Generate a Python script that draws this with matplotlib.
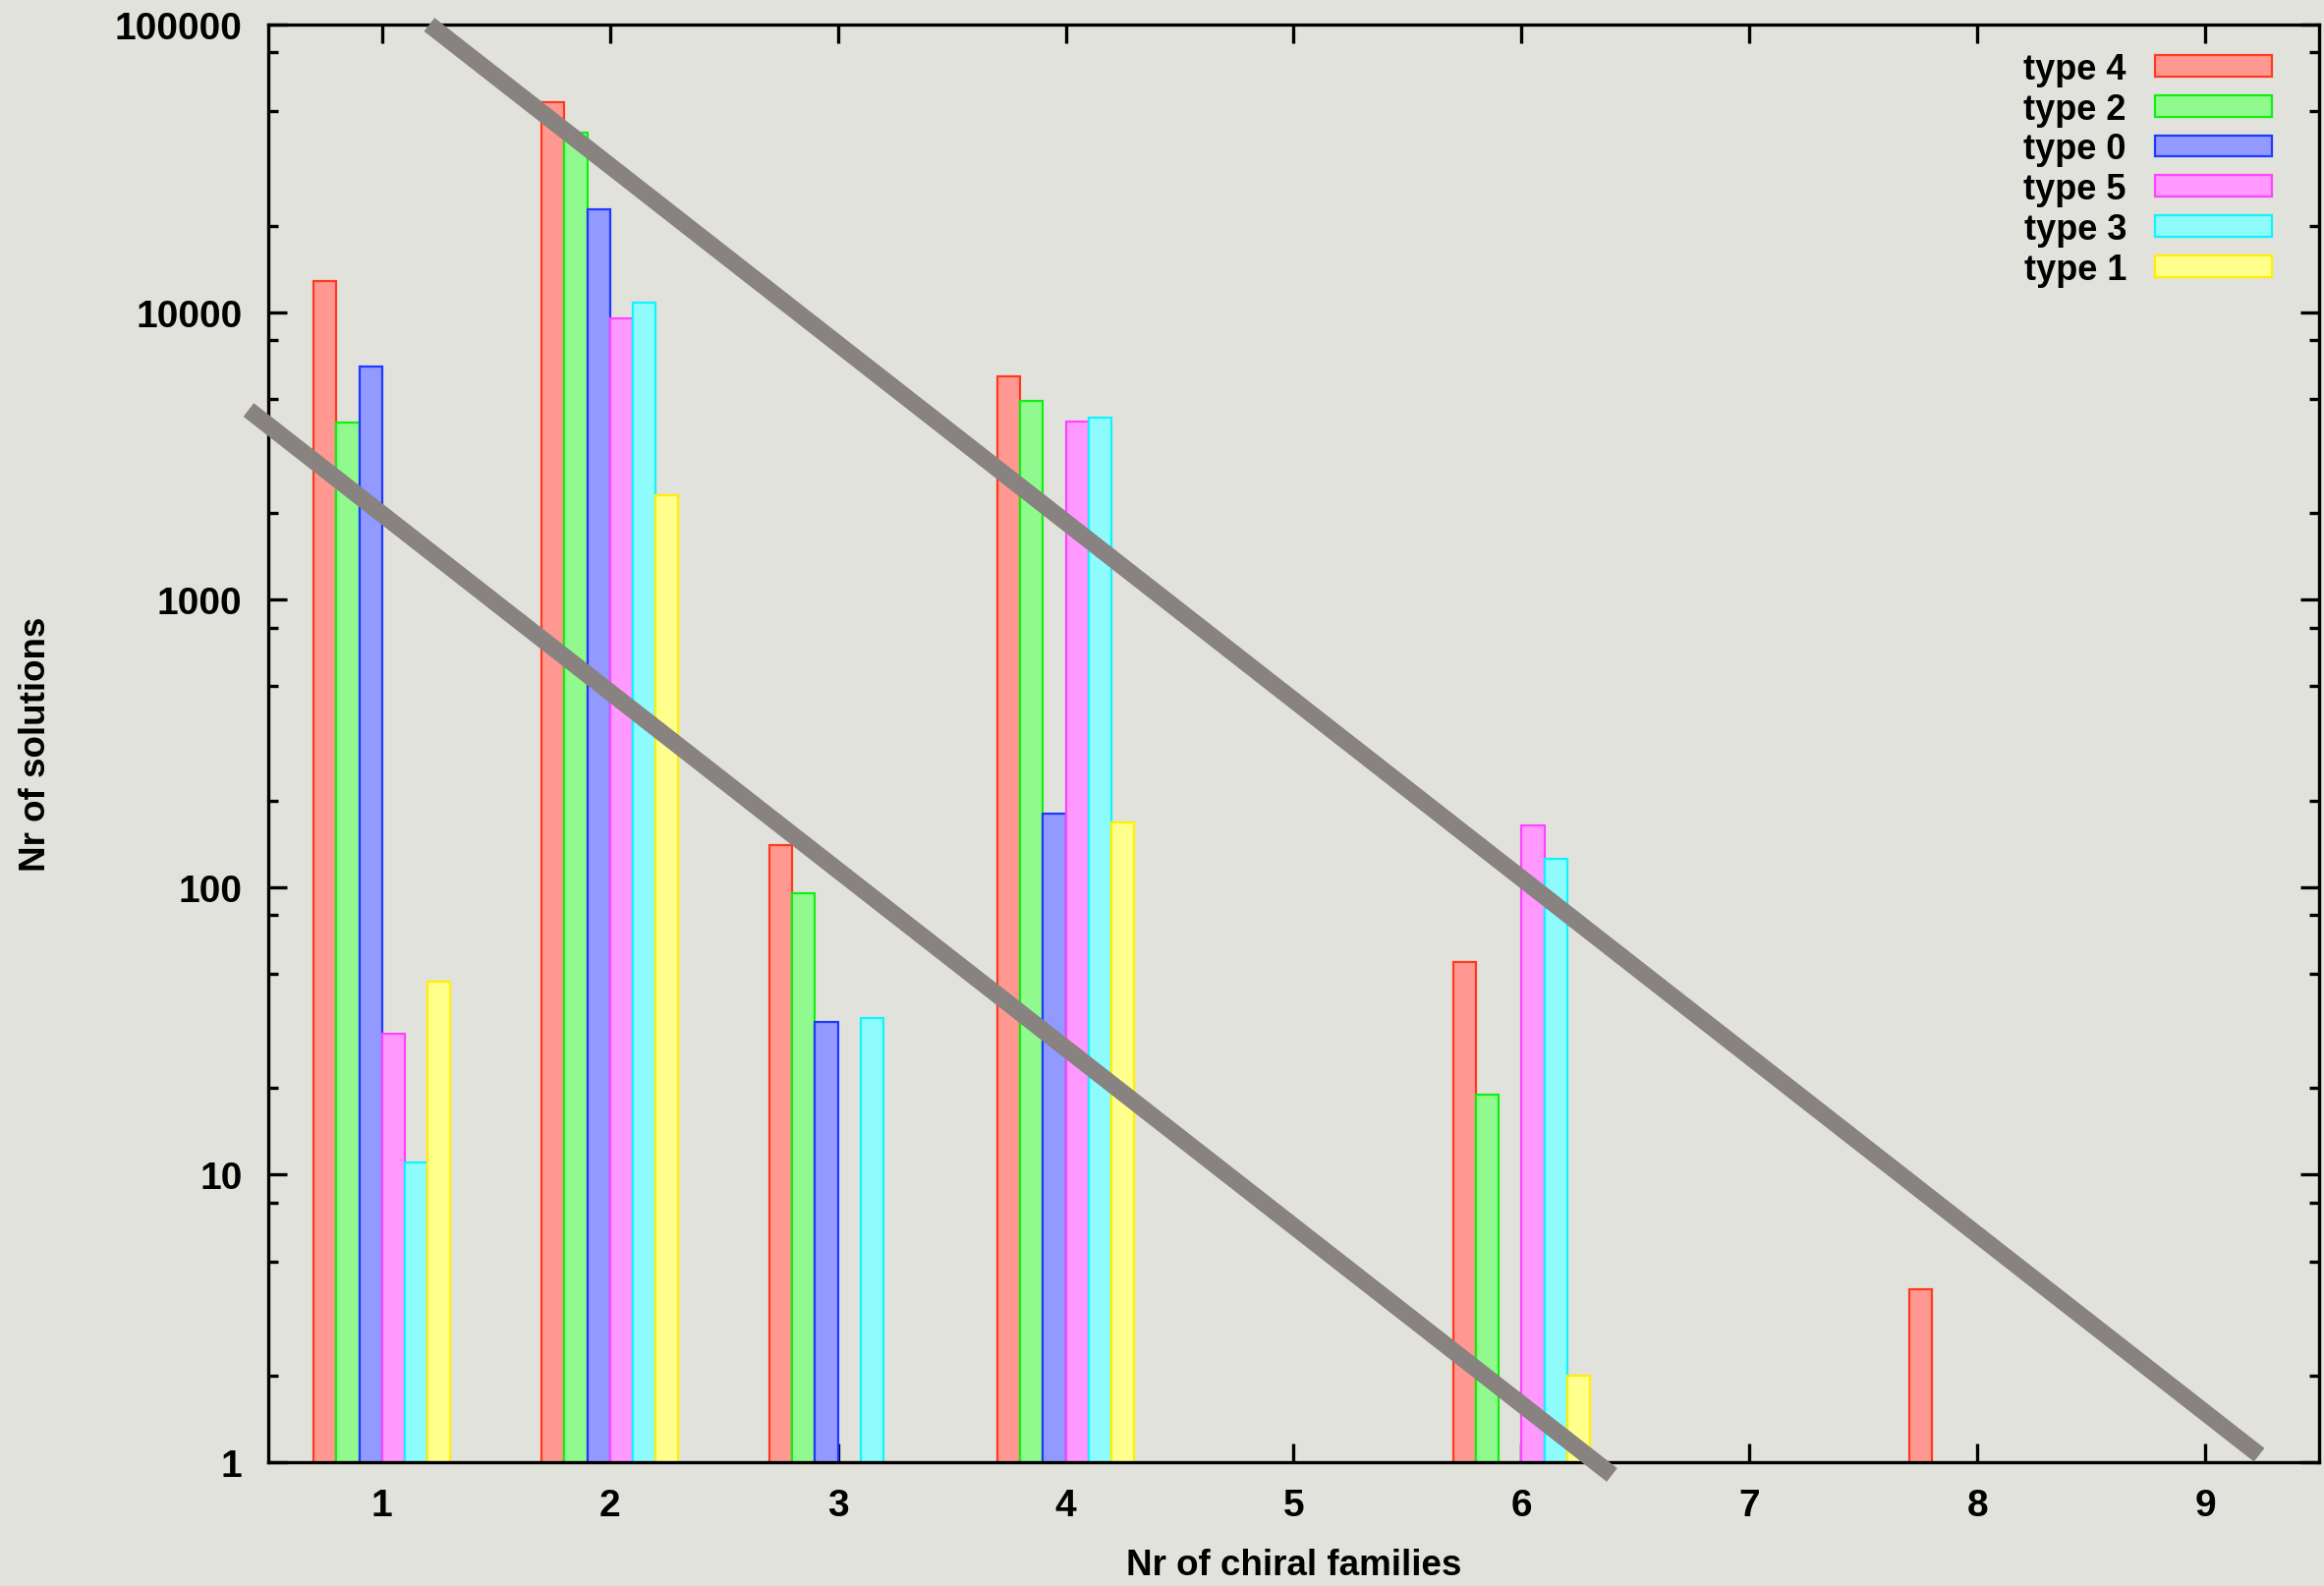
import numpy as np
import matplotlib
matplotlib.use("Agg")
import matplotlib.pyplot as plt
from matplotlib.ticker import LogLocator, FixedLocator, NullFormatter, FuncFormatter

# data: number of solutions per number of chiral families, per type
families = [1, 2, 3, 4, 5, 6, 7, 8, 9]
series_names = ["type 4", "type 2", "type 0", "type 5", "type 3", "type 1"]
nan = np.nan
type4 = [12800, 53700, 140, 6000, nan, 55, nan, 4, nan]
type2 = [4140, 42000, 95, 4900, nan, 19, nan, nan, nan]
type0 = [6470, 22800, 34, 180, nan, nan, nan, nan, nan]
type5 = [31, 9500, nan, 4150, nan, 164, nan, nan, nan]
type3 = [11, 10800, 35, 4300, nan, 125, nan, nan, nan]
type1 = [47, 2300, nan, 168, nan, 2, nan, nan, nan]

# the two hand drawn trend lines (data coordinates)
upper_line_x = [1.207, 9.237]
upper_line_y = [100000, 1.06]
lower_line_x = [0.414, 6.397]
lower_line_y = [4571, 0.903]

fills = ["#ff9890", "#90fa8e", "#9299ff", "#ff98ff", "#8efcfc", "#ffff8e"]
edges = ["#ff3a1e", "#10f010", "#2038ff", "#ff44ff", "#10f4ff", "#fff000"]

bg = "#e2e2dc"
plt.rcParams['font.family'] = ['Liberation Sans', 'DejaVu Sans']
plt.rcParams['font.weight'] = 'bold'

fig = plt.figure(figsize=(23.65, 16.15), dpi=100, facecolor=bg)
ax = fig.add_axes([0.1154, 0.078, 0.8825, 0.9059])
ax.set_facecolor(bg)
ax.set_yscale('log')

all_series = [type4, type2, type0, type5, type3, type1]
x = np.array(families, dtype=float)
bw = 0.1
for i, vals in enumerate(all_series):
    ax.bar(x + (i - 2.5) * bw, vals, width=bw,
           color=fills[i], edgecolor=edges[i], linewidth=1.6,
           label=series_names[i], zorder=2)

ax.plot(upper_line_x, upper_line_y, color="#888280", lw=12.5,
        solid_capstyle='butt', clip_on=False, zorder=5)
ax.plot(lower_line_x, lower_line_y, color="#888280", lw=12.5,
        solid_capstyle='butt', clip_on=False, zorder=5)

ax.set_xlim(0.5, 9.5)
ax.set_ylim(1, 100000)

ax.xaxis.set_major_locator(FixedLocator(families))
ax.yaxis.set_major_locator(LogLocator(base=10, numticks=10))
ax.yaxis.set_minor_locator(LogLocator(base=10, subs=[2, 5, 8], numticks=10))
ax.yaxis.set_minor_formatter(NullFormatter())
ax.yaxis.set_major_formatter(FuncFormatter(lambda v, p: "%d" % round(v)))

ax.tick_params(which='both', direction='in', top=True, right=True, width=2.4,
               labelsize=28, pad=19, colors='black')
ax.tick_params(which='major', length=14)
ax.tick_params(which='minor', length=7)
for s in ax.spines.values():
    s.set_linewidth(2.4)

ax.set_xlabel("Nr of chiral families", fontsize=26.5, fontweight='bold', labelpad=18)
ax.set_ylabel("Nr of solutions", fontsize=26.5, fontweight='bold', labelpad=45)

leg = ax.legend(loc='upper right', bbox_to_anchor=(0.977, 0.981), frameon=False,
                markerfirst=False, fontsize=26, handlelength=3.3, handleheight=0.55,
                labelspacing=0.16, handletextpad=0.8, borderpad=0, borderaxespad=0)

fig.savefig("out.png", dpi=100, facecolor=bg)
